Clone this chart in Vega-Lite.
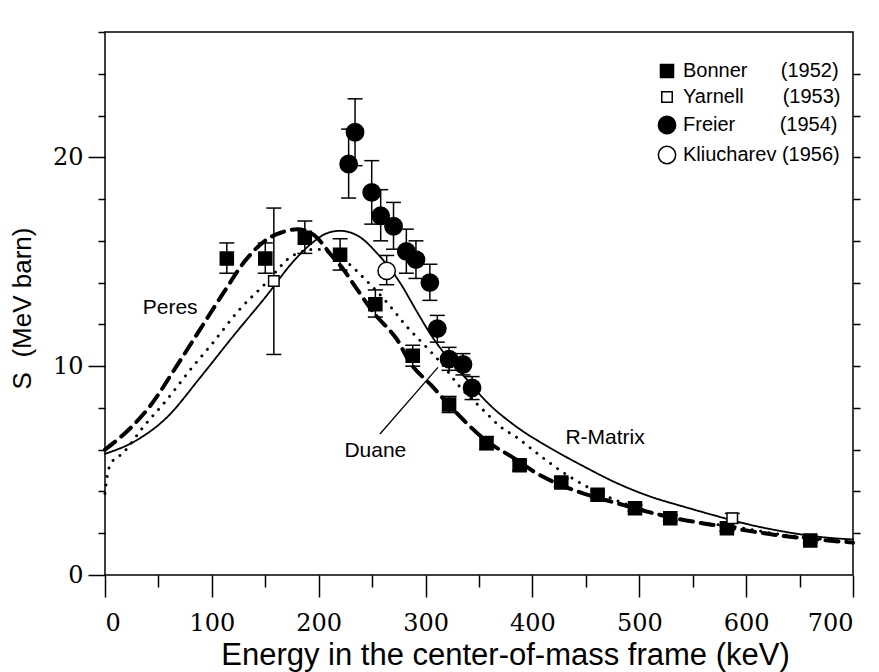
{
  "$schema": "https://vega.github.io/schema/vega-lite/v6.json",
  "width": 748,
  "height": 543,
  "autosize": {"type": "none"},
  "padding": {"left": 105, "top": 32, "right": 26, "bottom": 97},
  "background": "white",
  "config": {
    "view": {"stroke": "black", "strokeWidth": 1.5},
    "font": "Liberation Sans",
    "axis": {"labelColor": "black", "tickColor": "black", "titleColor": "black", "grid": false, "domain": false}
  },
  "datasets": {
    "points": [
      {"series": "Bonner", "E": 114, "S": 15.15, "low": 14.45, "high": 15.9},
      {"series": "Bonner", "E": 150, "S": 15.15, "low": 14.45, "high": 15.9},
      {"series": "Bonner", "E": 187, "S": 16.15, "low": 15.4, "high": 16.95},
      {"series": "Bonner", "E": 220, "S": 15.33, "low": 14.6, "high": 16.1},
      {"series": "Bonner", "E": 253, "S": 12.96, "low": 12.35, "high": 13.65},
      {"series": "Bonner", "E": 288, "S": 10.5, "low": 10.0, "high": 11.0},
      {"series": "Bonner", "E": 322, "S": 8.16, "low": 7.78, "high": 8.55},
      {"series": "Bonner", "E": 357, "S": 6.32, "low": 6.0, "high": 6.62},
      {"series": "Bonner", "E": 388, "S": 5.25, "low": 5.0, "high": 5.5},
      {"series": "Bonner", "E": 427, "S": 4.43, "low": 4.23, "high": 4.63},
      {"series": "Bonner", "E": 461, "S": 3.84, "low": 3.66, "high": 4.02},
      {"series": "Bonner", "E": 496, "S": 3.2, "low": 3.05, "high": 3.35},
      {"series": "Bonner", "E": 529, "S": 2.72, "low": 2.58, "high": 2.86},
      {"series": "Bonner", "E": 582, "S": 2.24, "low": 2.1, "high": 2.38},
      {"series": "Bonner", "E": 660, "S": 1.65, "low": 1.55, "high": 1.75},
      {"series": "Yarnell", "E": 158, "S": 14.08, "low": 10.56, "high": 17.57},
      {"series": "Yarnell", "E": 587, "S": 2.72, "low": 2.5, "high": 2.95},
      {"series": "Freier", "E": 228, "S": 19.68, "low": 18.05, "high": 21.35},
      {"series": "Freier", "E": 234, "S": 21.2, "low": 19.6, "high": 22.8},
      {"series": "Freier", "E": 249.6, "S": 18.32, "low": 16.8, "high": 19.84},
      {"series": "Freier", "E": 258, "S": 17.2, "low": 16.0, "high": 18.45},
      {"series": "Freier", "E": 270, "S": 16.7, "low": 15.6, "high": 17.84},
      {"series": "Freier", "E": 282, "S": 15.5, "low": 14.45, "high": 16.56},
      {"series": "Freier", "E": 291, "S": 15.1, "low": 14.2, "high": 16.0},
      {"series": "Freier", "E": 304, "S": 14.0, "low": 13.15, "high": 14.88},
      {"series": "Freier", "E": 311, "S": 11.8, "low": 11.15, "high": 12.43},
      {"series": "Freier", "E": 322, "S": 10.34, "low": 9.8, "high": 10.9},
      {"series": "Freier", "E": 335, "S": 10.08, "low": 9.58, "high": 10.6},
      {"series": "Freier", "E": 343.5, "S": 8.96, "low": 8.4, "high": 9.5},
      {"series": "Kliucharev", "E": 263.6, "S": 14.56, "low": 13.9, "high": 15.3}
    ],
    "curves": [
      {"model": "R-Matrix", "E": 0, "S": 5.8},
      {"model": "R-Matrix", "E": 26, "S": 6.35},
      {"model": "R-Matrix", "E": 58, "S": 7.55},
      {"model": "R-Matrix", "E": 89, "S": 9.45},
      {"model": "R-Matrix", "E": 120, "S": 11.44},
      {"model": "R-Matrix", "E": 151, "S": 13.36},
      {"model": "R-Matrix", "E": 176, "S": 15.0},
      {"model": "R-Matrix", "E": 195, "S": 15.95},
      {"model": "R-Matrix", "E": 207, "S": 16.35},
      {"model": "R-Matrix", "E": 220, "S": 16.48},
      {"model": "R-Matrix", "E": 238, "S": 16.2},
      {"model": "R-Matrix", "E": 254, "S": 15.44},
      {"model": "R-Matrix", "E": 276, "S": 14.0},
      {"model": "R-Matrix", "E": 292, "S": 12.6},
      {"model": "R-Matrix", "E": 305, "S": 11.5},
      {"model": "R-Matrix", "E": 320, "S": 10.45},
      {"model": "R-Matrix", "E": 338, "S": 9.4},
      {"model": "R-Matrix", "E": 357, "S": 8.3},
      {"model": "R-Matrix", "E": 385, "S": 7.1},
      {"model": "R-Matrix", "E": 416, "S": 6.1},
      {"model": "R-Matrix", "E": 448, "S": 5.2},
      {"model": "R-Matrix", "E": 479, "S": 4.4},
      {"model": "R-Matrix", "E": 510, "S": 3.76},
      {"model": "R-Matrix", "E": 541, "S": 3.28},
      {"model": "R-Matrix", "E": 572, "S": 2.83},
      {"model": "R-Matrix", "E": 604, "S": 2.4},
      {"model": "R-Matrix", "E": 635, "S": 2.08},
      {"model": "R-Matrix", "E": 666, "S": 1.84},
      {"model": "R-Matrix", "E": 700, "S": 1.7},
      {"model": "Duane", "E": 0, "S": 3.9},
      {"model": "Duane", "E": 2, "S": 4.7},
      {"model": "Duane", "E": 5, "S": 5.3},
      {"model": "Duane", "E": 17, "S": 5.85},
      {"model": "Duane", "E": 36, "S": 7.1},
      {"model": "Duane", "E": 58, "S": 8.4},
      {"model": "Duane", "E": 80, "S": 9.84},
      {"model": "Duane", "E": 101, "S": 11.12},
      {"model": "Duane", "E": 126, "S": 12.72},
      {"model": "Duane", "E": 151, "S": 14.0},
      {"model": "Duane", "E": 173, "S": 15.2},
      {"model": "Duane", "E": 185, "S": 15.5},
      {"model": "Duane", "E": 198, "S": 15.6},
      {"model": "Duane", "E": 207, "S": 15.5},
      {"model": "Duane", "E": 223, "S": 15.1},
      {"model": "Duane", "E": 245, "S": 14.08},
      {"model": "Duane", "E": 264, "S": 13.04},
      {"model": "Duane", "E": 282, "S": 11.92},
      {"model": "Duane", "E": 301, "S": 10.9},
      {"model": "Duane", "E": 317, "S": 10.0},
      {"model": "Duane", "E": 329, "S": 9.2},
      {"model": "Duane", "E": 355, "S": 7.85},
      {"model": "Duane", "E": 370, "S": 7.1},
      {"model": "Duane", "E": 385, "S": 6.6},
      {"model": "Duane", "E": 405, "S": 5.8},
      {"model": "Duane", "E": 432, "S": 4.8},
      {"model": "Duane", "E": 463, "S": 3.92},
      {"model": "Duane", "E": 494, "S": 3.28},
      {"model": "Duane", "E": 541, "S": 2.64},
      {"model": "Duane", "E": 588, "S": 2.32},
      {"model": "Duane", "E": 635, "S": 1.92},
      {"model": "Duane", "E": 700, "S": 1.6},
      {"model": "Peres", "E": 0, "S": 6.0},
      {"model": "Peres", "E": 26, "S": 7.15},
      {"model": "Peres", "E": 42, "S": 8.08},
      {"model": "Peres", "E": 67, "S": 10.0},
      {"model": "Peres", "E": 89, "S": 11.76},
      {"model": "Peres", "E": 111, "S": 13.52},
      {"model": "Peres", "E": 132, "S": 15.1},
      {"model": "Peres", "E": 154, "S": 16.15},
      {"model": "Peres", "E": 165, "S": 16.4},
      {"model": "Peres", "E": 180, "S": 16.55},
      {"model": "Peres", "E": 195, "S": 16.3},
      {"model": "Peres", "E": 212, "S": 15.3},
      {"model": "Peres", "E": 223, "S": 14.64},
      {"model": "Peres", "E": 235, "S": 13.75},
      {"model": "Peres", "E": 254, "S": 12.4},
      {"model": "Peres", "E": 264, "S": 11.85},
      {"model": "Peres", "E": 273, "S": 11.3},
      {"model": "Peres", "E": 285, "S": 10.2},
      {"model": "Peres", "E": 305, "S": 9.1},
      {"model": "Peres", "E": 329, "S": 7.76},
      {"model": "Peres", "E": 355, "S": 6.5},
      {"model": "Peres", "E": 385, "S": 5.52},
      {"model": "Peres", "E": 401, "S": 4.96},
      {"model": "Peres", "E": 438, "S": 4.08},
      {"model": "Peres", "E": 479, "S": 3.44},
      {"model": "Peres", "E": 526, "S": 2.8},
      {"model": "Peres", "E": 578, "S": 2.32},
      {"model": "Peres", "E": 635, "S": 1.87},
      {"model": "Peres", "E": 700, "S": 1.55}
    ],
    "labels": [
      {"text": "Peres", "E": 61, "S": 12.8},
      {"text": "Duane", "E": 253, "S": 5.92},
      {"text": "R-Matrix", "E": 468, "S": 6.56}
    ],
    "leader": [
      {"E": 257.3, "S": 6.75, "E2": 311.6, "S2": 9.94}
    ]
  },
  "resolve": {"axis": {"y": "independent"}},
  "layer": [
    {
      "data": {"name": "curves"},
      "mark": {"type": "line", "color": "black", "interpolate": "monotone", "strokeCap": "round"},
      "encoding": {
        "x": {
          "field": "E", "type": "quantitative",
          "scale": {"domain": [0, 700], "nice": false},
          "axis": {
            "values": [0, 50, 100, 150, 200, 250, 300, 350, 400, 450, 500, 550, 600, 650, 700],
            "labelExpr": "datum.value % 100 === 0 ? datum.label : ''",
            "tickSize": {"condition": {"test": "datum.value % 100 === 0", "value": 22}, "value": 12},
            "tickWidth": 1.5,
            "labelFont": "DejaVu Serif", "labelFontSize": 24, "labelPadding": 14,
            "title": "Energy in the center-of-mass frame (keV)",
            "titleFont": "Liberation Sans", "titleFontSize": 31, "titleFontWeight": "normal",
            "titleX": 400, "titleY": 80, "titleBaseline": "middle", "titleAlign": "center"
          }
        },
        "y": {
          "field": "S", "type": "quantitative",
          "scale": {"domain": [0, 26], "nice": false},
          "axis": {
            "values": [0, 2, 4, 6, 8, 10, 12, 14, 16, 18, 20, 22, 24, 26],
            "labelExpr": "datum.value % 10 === 0 ? datum.label : ''",
            "tickSize": {"condition": {"test": "datum.value % 10 === 0", "value": 17}, "value": 7},
            "tickWidth": 1.5,
            "labelFont": "DejaVu Serif", "labelFontSize": 24, "labelPadding": 5,
            "title": "S\u00a0\u00a0(MeV barn)",
            "titleFont": "Liberation Sans", "titleFontSize": 26, "titleFontWeight": "normal",
            "titleX": -83, "titleY": 276, "titleAngle": -90, "titleAlign": "center", "titleBaseline": "middle"
          }
        },
        "strokeDash": {"field": "model", "type": "nominal", "scale": {"domain": ["R-Matrix", "Duane", "Peres"], "range": [[1, 0], [0.1, 8.5], [13, 8]]}, "legend": null},
        "strokeWidth": {"field": "model", "type": "nominal", "scale": {"domain": ["R-Matrix", "Duane", "Peres"], "range": [1.8, 4, 1.6]}, "legend": null}
      }
    },
    {
      "data": {"name": "points"},
      "mark": {"type": "rule", "color": "black", "strokeWidth": 1.5},
      "encoding": {
        "x": {"field": "E", "type": "quantitative", "scale": {"domain": [0, 700], "nice": false}},
        "y": {"field": "low", "type": "quantitative", "scale": {"domain": [0, 26], "nice": false}, "axis": null},
        "y2": {"field": "high"}
      }
    },
    {
      "data": {"name": "points"},
      "transform": [{"fold": ["low", "high"], "as": ["bound", "Sv"]}],
      "mark": {"type": "point", "shape": "stroke", "size": 225, "stroke": "black", "strokeWidth": 1.5, "opacity": 1},
      "encoding": {
        "x": {"field": "E", "type": "quantitative", "scale": {"domain": [0, 700], "nice": false}},
        "y": {"field": "Sv", "type": "quantitative", "scale": {"domain": [0, 26], "nice": false}, "axis": null}
      }
    },
    {
      "data": {"name": "points"},
      "mark": {"type": "point", "filled": true, "stroke": "black", "strokeWidth": 1.5, "opacity": 1},
      "encoding": {
        "x": {"field": "E", "type": "quantitative", "scale": {"domain": [0, 700], "nice": false}},
        "y": {"field": "S", "type": "quantitative", "scale": {"domain": [0, 26], "nice": false}, "axis": null},
        "shape": {
          "field": "series", "type": "nominal",
          "scale": {"domain": ["Bonner", "Yarnell", "Freier", "Kliucharev"], "range": ["square", "square", "circle", "circle"]},
          "legend": {"title": null, "orient": "none", "legendX": 552, "legendY": 29, "padding": 0, "labelFont": "Liberation Sans", "labelFontSize": 20, "labelColor": "black", "labelOffset": 6, "rowPadding": 6,
            "encode": {"symbols": {"update": {"stroke": {"value": "black"}, "strokeWidth": {"value": 1.5}}}},
            "labelExpr": "datum.label === 'Bonner' ? 'Bonner\u00a0\u00a0\u00a0\u00a0\u00a0\u00a0(1952)' : datum.label === 'Yarnell' ? 'Yarnell\u00a0\u00a0\u00a0\u00a0\u00a0\u00a0\u00a0(1953)' : datum.label === 'Freier' ? 'Freier\u00a0\u00a0\u00a0\u00a0\u00a0\u00a0\u00a0\u00a0(1954)' : 'Kliucharev\u00a0(1956)'"}
        },
        "fill": {
          "field": "series", "type": "nominal",
          "scale": {"domain": ["Bonner", "Yarnell", "Freier", "Kliucharev"], "range": ["black", "white", "black", "white"]},
          "legend": {"title": null, "orient": "none", "legendX": 552, "legendY": 29, "padding": 0, "labelFont": "Liberation Sans", "labelFontSize": 20, "labelColor": "black", "labelOffset": 6, "rowPadding": 6,
            "encode": {"symbols": {"update": {"stroke": {"value": "black"}, "strokeWidth": {"value": 1.5}}}},
            "labelExpr": "datum.label === 'Bonner' ? 'Bonner\u00a0\u00a0\u00a0\u00a0\u00a0\u00a0(1952)' : datum.label === 'Yarnell' ? 'Yarnell\u00a0\u00a0\u00a0\u00a0\u00a0\u00a0\u00a0(1953)' : datum.label === 'Freier' ? 'Freier\u00a0\u00a0\u00a0\u00a0\u00a0\u00a0\u00a0\u00a0(1954)' : 'Kliucharev\u00a0(1956)'"}
        },
        "size": {
          "field": "series", "type": "nominal",
          "scale": {"type": "ordinal", "domain": ["Bonner", "Yarnell", "Freier", "Kliucharev"], "range": [170, 110, 300, 300]},
          "legend": {"title": null, "orient": "none", "legendX": 552, "legendY": 29, "padding": 0, "labelFont": "Liberation Sans", "labelFontSize": 20, "labelColor": "black", "labelOffset": 6, "rowPadding": 6,
            "encode": {"symbols": {"update": {"stroke": {"value": "black"}, "strokeWidth": {"value": 1.5}}}},
            "labelExpr": "datum.label === 'Bonner' ? 'Bonner\u00a0\u00a0\u00a0\u00a0\u00a0\u00a0(1952)' : datum.label === 'Yarnell' ? 'Yarnell\u00a0\u00a0\u00a0\u00a0\u00a0\u00a0\u00a0(1953)' : datum.label === 'Freier' ? 'Freier\u00a0\u00a0\u00a0\u00a0\u00a0\u00a0\u00a0\u00a0(1954)' : 'Kliucharev\u00a0(1956)'"}
        }
      }
    },
    {
      "data": {"name": "leader"},
      "mark": {"type": "rule", "color": "black", "strokeWidth": 1.3},
      "encoding": {
        "x": {"field": "E", "type": "quantitative", "scale": {"domain": [0, 700], "nice": false}},
        "y": {"field": "S", "type": "quantitative", "scale": {"domain": [0, 26], "nice": false}, "axis": null},
        "x2": {"field": "E2"},
        "y2": {"field": "S2"}
      }
    },
    {
      "data": {"name": "labels"},
      "mark": {"type": "text", "font": "Liberation Sans", "fontSize": 21, "color": "black", "align": "center", "baseline": "middle"},
      "encoding": {
        "x": {"field": "E", "type": "quantitative", "scale": {"domain": [0, 700], "nice": false}},
        "y": {
          "field": "S", "type": "quantitative", "scale": {"domain": [0, 26], "nice": false},
          "axis": {"orient": "right", "values": [2, 4, 6, 8, 10, 12, 14, 16, 18, 20, 22, 24], "labels": false, "tickSize": 7, "tickWidth": 1.5, "title": null}
        },
        "text": {"field": "text"}
      }
    }
  ]
}
